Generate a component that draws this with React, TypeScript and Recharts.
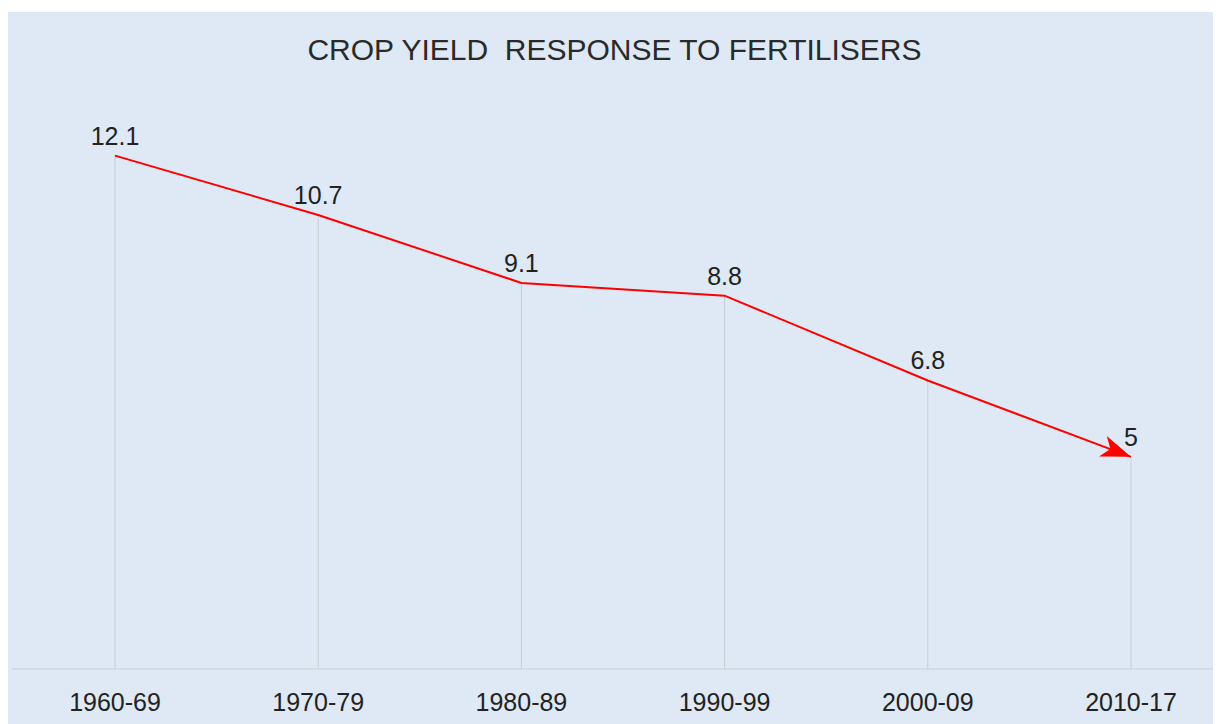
import {
    LineChart,
    Line,
    XAxis,
    YAxis,
    ReferenceLine,
    LabelList,
} from "recharts";

// decades and crop yield response (kg grain per kg nutrient)
const PERIODS = ["1960-69", "1970-79", "1980-89", "1990-99", "2000-09", "2010-17"];
const RESPONSE = [12.1, 10.7, 9.1, 8.8, 6.8, 5];

const TITLE = "CROP YIELD  RESPONSE TO FERTILISERS";
const FONT = "'Liberation Sans', Arial, sans-serif";

const data = PERIODS.map((period, i) => ({ period, value: RESPONSE[i] }));

export default function App() {
    return (
        <div
            style={{
                position: "relative",
                marginTop: 4,
                width: 1213,
                height: 712,
                background: "#dee9f5",
                fontFamily: FONT,
                overflow: "hidden",
            }}
        >
            {/* arrow head for the end of the trend line */}
            <svg width={0} height={0} style={{ position: "absolute" }}>
                <defs>
                    <marker
                        id="arrowHead"
                        viewBox="0 -11 30 22"
                        refX={30}
                        refY={0}
                        markerWidth={30}
                        markerHeight={22}
                        markerUnits="userSpaceOnUse"
                        orient="auto"
                    >
                        <path d="M0,-11 L30,0 L0,11 L8,0 Z" fill="#ff0000" />
                    </marker>
                </defs>
            </svg>
            <div
                style={{
                    position: "absolute",
                    top: 21,
                    left: 0,
                    width: "100%",
                    textAlign: "center",
                    fontSize: 30,
                    lineHeight: "34px",
                    color: "#2a2a2a",
                    whiteSpace: "pre",
                }}
            >
                {TITLE}
            </div>
            <LineChart
                width={1213}
                height={712}
                data={data}
                margin={{ top: 63, right: 0, left: 4, bottom: 0 }}
            >
                <XAxis
                    dataKey="period"
                    height={55}
                    padding={{ left: 103, right: 90 }}
                    axisLine={{ stroke: "#c8cdd3" }}
                    tickLine={false}
                    tickMargin={18}
                    tick={{ fill: "#222", fontSize: 25, fontFamily: FONT }}
                />
                <YAxis hide domain={[0, 14]} />
                {data.map((d) => (
                    <ReferenceLine
                        key={d.period}
                        segment={[
                            { x: d.period, y: 0 },
                            { x: d.period, y: d.value },
                        ]}
                        stroke="#c8cdd3"
                        strokeWidth={1}
                    />
                ))}
                <Line
                    dataKey="value"
                    type="linear"
                    stroke="#ff0000"
                    strokeWidth={2}
                    dot={false}
                    activeDot={false}
                    markerEnd="url(#arrowHead)"
                    isAnimationActive={false}
                >
                    <LabelList
                        dataKey="value"
                        position="top"
                        offset={11}
                        fill="#222"
                        fontSize={25}
                        fontFamily={FONT}
                    />
                </Line>
            </LineChart>
        </div>
    );
}
